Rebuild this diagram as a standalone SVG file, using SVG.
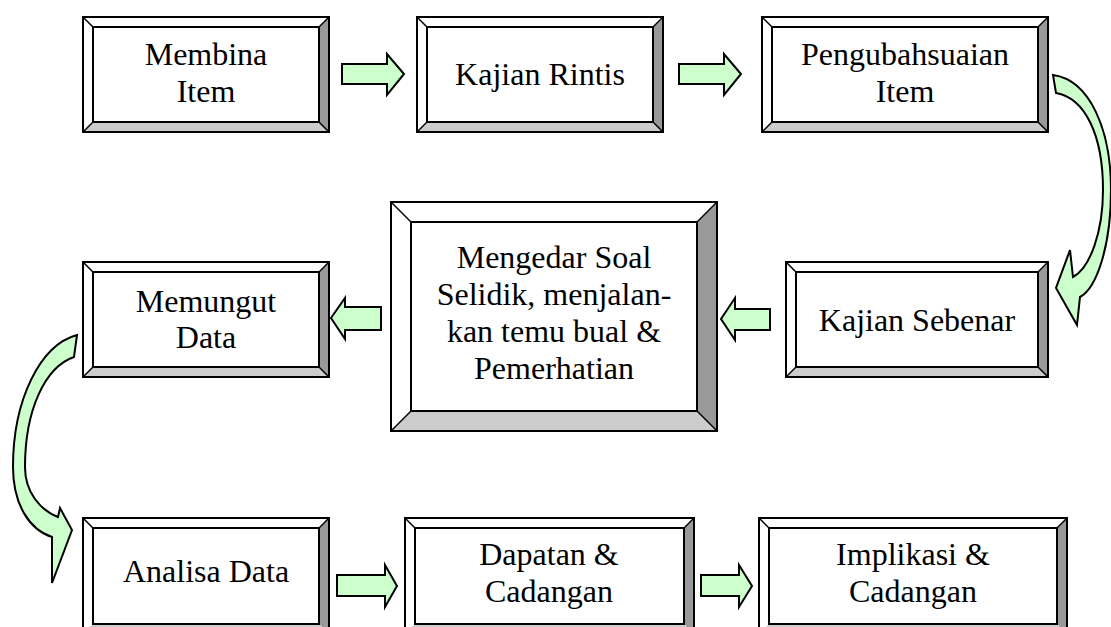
<svg xmlns="http://www.w3.org/2000/svg" width="1111" height="627" viewBox="0 0 1111 627">
  <defs>
    <style>
      .face { fill: #ffffff; }
      .side { fill: #999999; }
      .base { fill: #cccccc; }
      .edge { fill: none; stroke: #000000; stroke-width: 2; }
      .diag { stroke: #000000; stroke-width: 1.5; }
      .label { font-family: "Liberation Serif", "Times New Roman", serif; font-size: 32px; fill: #000000; text-anchor: middle; }
      .arrow { fill: #ccffcc; stroke: #000000; stroke-width: 2; stroke-linejoin: miter; }
    </style>
  </defs>
  <rect width="1111" height="627" fill="#ffffff"/>

  <!-- bevelled process boxes -->
  <g id="membina-item">
    <rect class="face" x="83" y="17" width="246" height="115"/>
    <polygon class="side" points="329,17 329,132 319,122 319,27"/>
    <polygon class="base" points="83,132 329,132 319,122 93,122"/>
    <line class="diag" x1="83" y1="17" x2="93" y2="27"/>
    <line class="diag" x1="329" y1="17" x2="319" y2="27"/>
    <line class="diag" x1="83" y1="132" x2="93" y2="122"/>
    <line class="diag" x1="329" y1="132" x2="319" y2="122"/>
    <rect class="edge" x="83" y="17" width="246" height="115"/>
    <rect class="edge" x="93" y="27" width="226" height="95"/>
    <text class="label" x="206" y="65">Membina</text>
    <text class="label" x="206" y="102">Item</text>
  </g>

  <g id="kajian-rintis">
    <rect class="face" x="417" y="17" width="246" height="115"/>
    <polygon class="side" points="663,17 663,132 653,122 653,27"/>
    <polygon class="base" points="417,132 663,132 653,122 427,122"/>
    <line class="diag" x1="417" y1="17" x2="427" y2="27"/>
    <line class="diag" x1="663" y1="17" x2="653" y2="27"/>
    <line class="diag" x1="417" y1="132" x2="427" y2="122"/>
    <line class="diag" x1="663" y1="132" x2="653" y2="122"/>
    <rect class="edge" x="417" y="17" width="246" height="115"/>
    <rect class="edge" x="427" y="27" width="226" height="95"/>
    <text class="label" x="540" y="85">Kajian Rintis</text>
  </g>

  <g id="pengubahsuaian-item">
    <rect class="face" x="762" y="17" width="286" height="115"/>
    <polygon class="side" points="1048,17 1048,132 1038,122 1038,27"/>
    <polygon class="base" points="762,132 1048,132 1038,122 772,122"/>
    <line class="diag" x1="762" y1="17" x2="772" y2="27"/>
    <line class="diag" x1="1048" y1="17" x2="1038" y2="27"/>
    <line class="diag" x1="762" y1="132" x2="772" y2="122"/>
    <line class="diag" x1="1048" y1="132" x2="1038" y2="122"/>
    <rect class="edge" x="762" y="17" width="286" height="115"/>
    <rect class="edge" x="772" y="27" width="266" height="95"/>
    <text class="label" x="905" y="65">Pengubahsuaian</text>
    <text class="label" x="905" y="102">Item</text>
  </g>

  <g id="memungut-data">
    <rect class="face" x="83" y="262" width="246" height="115"/>
    <polygon class="side" points="329,262 329,377 319,367 319,272"/>
    <polygon class="base" points="83,377 329,377 319,367 93,367"/>
    <line class="diag" x1="83" y1="262" x2="93" y2="272"/>
    <line class="diag" x1="329" y1="262" x2="319" y2="272"/>
    <line class="diag" x1="83" y1="377" x2="93" y2="367"/>
    <line class="diag" x1="329" y1="377" x2="319" y2="367"/>
    <rect class="edge" x="83" y="262" width="246" height="115"/>
    <rect class="edge" x="93" y="272" width="226" height="95"/>
    <text class="label" x="206" y="312">Memungut</text>
    <text class="label" x="206" y="348">Data</text>
  </g>

  <g id="mengedar-soal-selidik">
    <rect class="face" x="391" y="202" width="326" height="229"/>
    <polygon class="side" points="717,202 717,431 697,411 697,222"/>
    <polygon class="base" points="391,431 717,431 697,411 411,411"/>
    <line class="diag" x1="391" y1="202" x2="411" y2="222"/>
    <line class="diag" x1="717" y1="202" x2="697" y2="222"/>
    <line class="diag" x1="391" y1="431" x2="411" y2="411"/>
    <line class="diag" x1="717" y1="431" x2="697" y2="411"/>
    <rect class="edge" x="391" y="202" width="326" height="229"/>
    <rect class="edge" x="411" y="222" width="286" height="189"/>
    <text class="label" x="554" y="268">Mengedar Soal</text>
    <text class="label" x="554" y="305">Selidik, menjalan-</text>
    <text class="label" x="554" y="342">kan temu bual &amp;</text>
    <text class="label" x="554" y="379">Pemerhatian</text>
  </g>

  <g id="kajian-sebenar">
    <rect class="face" x="786" y="262" width="262" height="115"/>
    <polygon class="side" points="1048,262 1048,377 1038,367 1038,272"/>
    <polygon class="base" points="786,377 1048,377 1038,367 796,367"/>
    <line class="diag" x1="786" y1="262" x2="796" y2="272"/>
    <line class="diag" x1="1048" y1="262" x2="1038" y2="272"/>
    <line class="diag" x1="786" y1="377" x2="796" y2="367"/>
    <line class="diag" x1="1048" y1="377" x2="1038" y2="367"/>
    <rect class="edge" x="786" y="262" width="262" height="115"/>
    <rect class="edge" x="796" y="272" width="242" height="95"/>
    <text class="label" x="917" y="331">Kajian Sebenar</text>
  </g>

  <g id="analisa-data">
    <rect class="face" x="83" y="518" width="246" height="116"/>
    <polygon class="side" points="329,518 329,634 319,624 319,528"/>
    <polygon class="base" points="83,634 329,634 319,624 93,624"/>
    <line class="diag" x1="83" y1="518" x2="93" y2="528"/>
    <line class="diag" x1="329" y1="518" x2="319" y2="528"/>
    <rect class="edge" x="83" y="518" width="246" height="116"/>
    <rect class="edge" x="93" y="528" width="226" height="96"/>
    <text class="label" x="206" y="582">Analisa Data</text>
  </g>

  <g id="dapatan-cadangan">
    <rect class="face" x="405" y="518" width="289" height="116"/>
    <polygon class="side" points="694,518 694,634 684,624 684,528"/>
    <polygon class="base" points="405,634 694,634 684,624 415,624"/>
    <line class="diag" x1="405" y1="518" x2="415" y2="528"/>
    <line class="diag" x1="694" y1="518" x2="684" y2="528"/>
    <rect class="edge" x="405" y="518" width="289" height="116"/>
    <rect class="edge" x="415" y="528" width="269" height="96"/>
    <text class="label" x="549" y="565">Dapatan &amp;</text>
    <text class="label" x="549" y="602">Cadangan</text>
  </g>

  <g id="implikasi-cadangan">
    <rect class="face" x="759" y="518" width="308" height="116"/>
    <polygon class="side" points="1067,518 1067,634 1057,624 1057,528"/>
    <polygon class="base" points="759,634 1067,634 1057,624 769,624"/>
    <line class="diag" x1="759" y1="518" x2="769" y2="528"/>
    <line class="diag" x1="1067" y1="518" x2="1057" y2="528"/>
    <rect class="edge" x="759" y="518" width="308" height="116"/>
    <rect class="edge" x="769" y="528" width="288" height="96"/>
    <text class="label" x="913" y="565">Implikasi &amp;</text>
    <text class="label" x="913" y="602">Cadangan</text>
  </g>

  <!-- block and curved arrows -->
  <g id="connectors">
    <polygon class="arrow" points="342,64 387,64 387,54 404,74 387,95 387,84 342,84"/>
    <polygon class="arrow" points="679,64 724,64 724,54 741,74 724,95 724,84 679,84"/>
    <path class="arrow" d="M1053,75 C1090,80 1111,130 1111,190 C1111,245 1097,288 1080,297 L1077,325 L1056,288 L1070,250 L1073,277 C1090,268 1103,232 1103,190 C1103,135 1085,98 1056,93 Z"/>
    <polygon class="arrow" points="770,309 735,309 735,298 721,319 735,340 735,330 770,330"/>
    <polygon class="arrow" points="381,307 345,307 345,298 331,318 345,339 345,330 381,330"/>
    <path class="arrow" d="M77,335 C40,345 13,400 13,467 C13,505 30,530 52,537 L52,583 L72,530 L60,508 L58,517 C40,510 25,492 25,467 C25,410 45,367 74,357 Z"/>
    <polygon class="arrow" points="337,575 385,575 385,565 397,586 385,607 385,596 337,596"/>
    <polygon class="arrow" points="701,575 739,575 739,565 752,586 739,607 739,596 701,596"/>
  </g>
</svg>
